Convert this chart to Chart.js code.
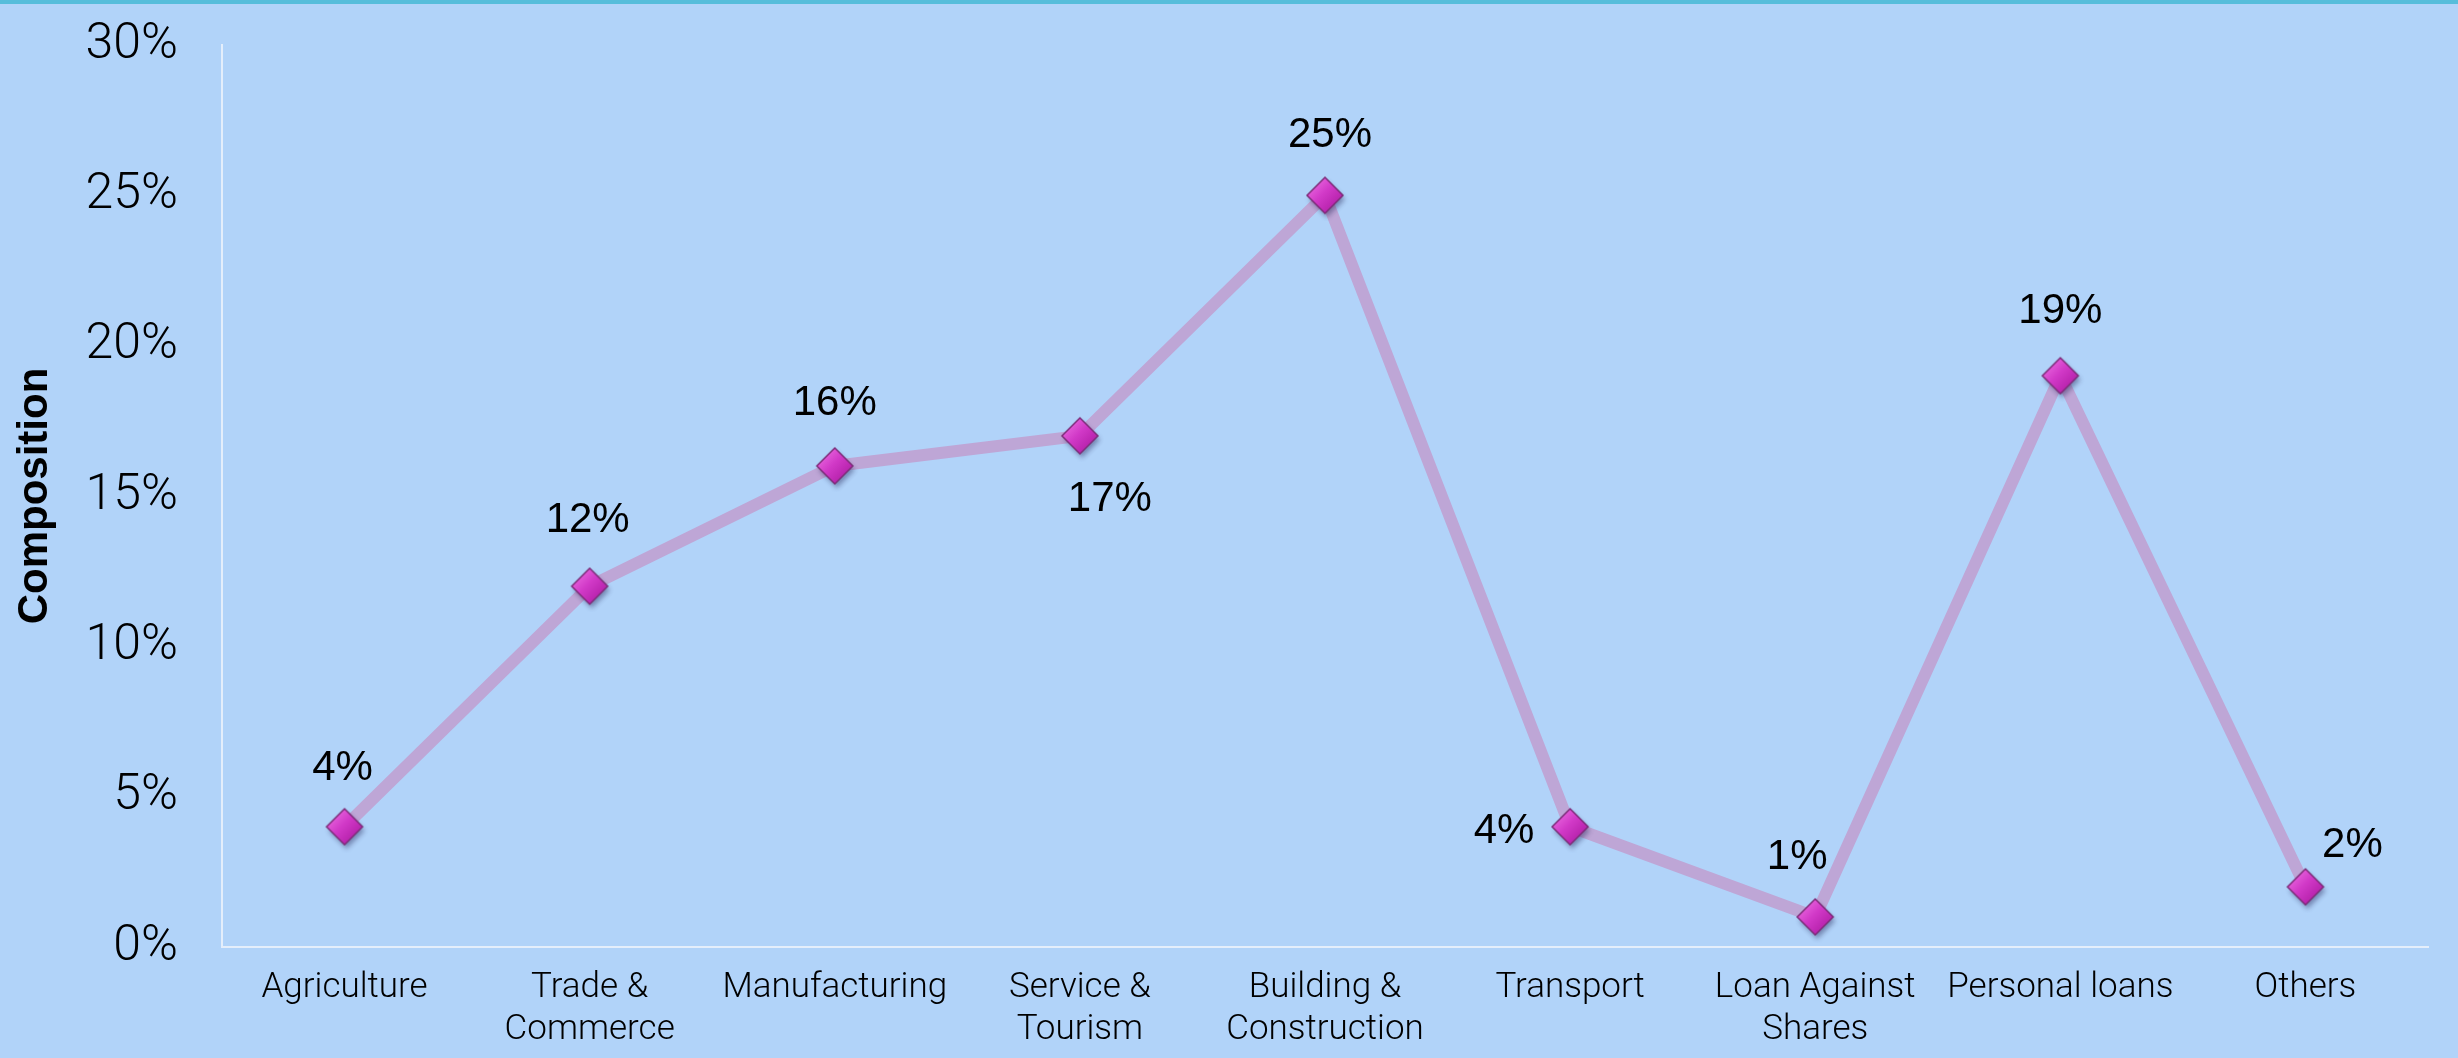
<!DOCTYPE html>
<html>
<head>
<meta charset="utf-8">
<script src="https://cdn.jsdelivr.net/npm/chart.js@4.4.0/dist/chart.umd.min.js"></script>
<style>
  html, body { margin:0; padding:0; background:#b1d3f9; overflow:hidden; }
  #wrap { position:relative; width:2458px; height:1058px; }
  #topbar { position:absolute; left:0; top:0; width:100%; height:4px; background:#56bddb; }
</style>
</head>
<body>
<div id="wrap">
  <canvas id="compChart" width="2458" height="1058"></canvas>
  <div id="topbar"></div>
</div>
<script>
const categories = [
  'Agriculture', ['Trade &', 'Commerce'], 'Manufacturing', ['Service &', 'Tourism'],
  ['Building &', 'Construction'], 'Transport', ['Loan Against', 'Shares'], 'Personal loans', 'Others'
];
const composition = [4, 12, 16, 17, 25, 4, 1, 19, 2];
const yTicks = [0, 5, 10, 15, 20, 25, 30];
// where each value label sits relative to its marker
const labelOffsets = [[-2,-58],[-2,-66],[0,-63],[30,64],[5,-60],[-66,5],[-18,-60],[0,-64],[47,-41]];

// diamond marker with a bit of gloss and shadow
function makeDiamond(r) {
  const c = document.createElement('canvas');
  const s = r * 2 + 16;
  c.width = s; c.height = s;
  const g = c.getContext('2d');
  const m = s / 2;
  g.save();
  g.shadowColor = 'rgba(40,40,90,0.45)';
  g.shadowBlur = 5;
  g.shadowOffsetX = 2;
  g.shadowOffsetY = 4;
  g.beginPath();
  g.moveTo(m - r, m); g.lineTo(m, m - r); g.lineTo(m + r, m); g.lineTo(m, m + r); g.closePath();
  const grad = g.createLinearGradient(m - r, m - r, m + r, m + r);
  grad.addColorStop(0, '#f37be9');
  grad.addColorStop(0.45, '#d23ac8');
  grad.addColorStop(1, '#a5139a');
  g.fillStyle = grad;
  g.fill();
  g.restore();
  g.lineWidth = 1.5;
  g.strokeStyle = '#7c2c78';
  g.beginPath();
  g.moveTo(m - r, m); g.lineTo(m, m - r); g.lineTo(m + r, m); g.lineTo(m, m + r); g.closePath();
  g.stroke();
  return c;
}
const diamond = makeDiamond(18);

const valueLabels = {
  id: 'valueLabels',
  afterDatasetsDraw(chart) {
    const ctx = chart.ctx;
    const meta = chart.getDatasetMeta(0);
    ctx.save();
    ctx.font = '42px "Liberation Sans", Arial, sans-serif';
    ctx.fillStyle = '#000';
    ctx.textAlign = 'center';
    ctx.textBaseline = 'middle';
    meta.data.forEach((pt, i) => {
      const [dx, dy] = labelOffsets[i];
      ctx.fillText(composition[i] + '%', pt.x + dx, pt.y + dy);
    });
    ctx.restore();
  }
};

new Chart(document.getElementById('compChart'), {
  type: 'line',
  data: {
    labels: categories,
    datasets: [{
      data: composition,
      borderColor: '#bea6d6',
      borderWidth: 12,
      tension: 0,
      pointStyle: diamond,
      pointRadius: 18,
      pointHoverRadius: 18
    }]
  },
  options: {
    responsive: false,
    animation: false,
    layout: { padding: { left: 0, right: 29, top: 45, bottom: 0 } },
    plugins: { legend: { display: false }, tooltip: { enabled: false } },
    scales: {
      x: {
        offset: true,
        grid: { display: false, drawTicks: false },
        border: { display: true, color: '#e4eefb', width: 2 },
        ticks: {
          color: '#000', padding: 20, maxRotation: 0, autoSkip: false,
          font: { family: 'Roboto', weight: 300, size: 35, lineHeight: 1.2 }
        },
        afterFit(scale) { scale.height = 111; scale.paddingLeft = 0; scale.paddingRight = 0; }
      },
      y: {
        min: 0, max: 30,
        afterBuildTicks(scale) { scale.ticks = yTicks.map(v => ({ value: v })); },
        grid: { display: false, drawTicks: false },
        border: { display: true, color: '#e4eefb', width: 2 },
        ticks: {
          color: '#000', padding: 44,
          font: { family: 'Roboto', weight: 300, size: 50 },
          callback: v => v + '%'
        },
        title: {
          display: true, text: 'Composition', color: '#000',
          font: { family: '"Liberation Sans", Arial, sans-serif', weight: 'bold', size: 42 },
          padding: { top: 10, bottom: 0 }
        },
        afterFit(scale) { scale.width = 222; scale.paddingTop = 0; scale.paddingBottom = 0; }
      }
    }
  },
  plugins: [valueLabels]
});
</script>
</body>
</html>
